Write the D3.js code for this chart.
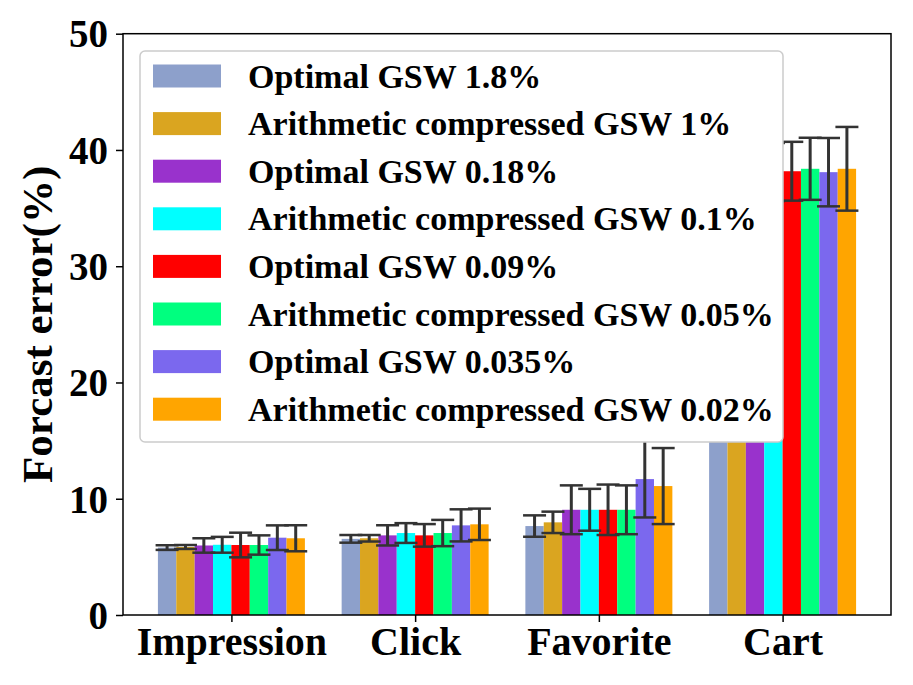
<html>
  <head>
    <script src="https://d3js.org/d3.v7.min.js"></script>
    <style>
      body { margin: 0; background: #fff; }
      text { font-family: "Liberation Serif", "Times New Roman", serif; font-weight: bold; }
    </style>
  </head>
  <body>
    <svg class="chart"></svg>
  </body>
  <script>
  // groups on the x axis
  const categories = ['Impression', 'Click', 'Favorite', 'Cart'];

  const seriesNames = [
    'Optimal GSW 1.8%',
    'Arithmetic compressed GSW 1%',
    'Optimal GSW 0.18%',
    'Arithmetic compressed GSW 0.1%',
    'Optimal GSW 0.09%',
    'Arithmetic compressed GSW 0.05%',
    'Optimal GSW 0.035%',
    'Arithmetic compressed GSW 0.02%'
  ];

  // mean forecast error (%) per series, one value per category
  const meanValues = [
    [5.8, 6.55, 7.65, 37.6],
    [5.85, 6.6, 7.97, 37.9],
    [5.98, 6.85, 9.05, 38.0],
    [6.04, 7.05, 9.05, 38.1],
    [6.02, 6.85, 9.05, 38.17],
    [6.02, 7.05, 9.05, 38.38],
    [6.65, 7.71, 11.69, 38.09],
    [6.6, 7.8, 11.09, 38.38]
  ];

  // error bar half lengths
  const errValues = [
    [0.2, 0.33, 0.92, 2.4],
    [0.17, 0.28, 0.92, 2.5],
    [0.62, 0.87, 2.1, 2.6],
    [0.68, 0.85, 1.8, 2.5],
    [1.06, 0.97, 2.17, 2.53],
    [0.83, 1.13, 2.1, 2.67],
    [1.06, 1.38, 3.3, 2.94],
    [1.12, 1.35, 3.27, 3.6]
  ];

  const yTicks = [0, 10, 20, 30, 40, 50];

  const colors = ['#8DA0CB', '#DAA520', '#9932CC', '#00FFFF', '#FF0000', '#00FF7F', '#7B68EE', '#FFA500'];

  function drawChart(){
    let width = 913;
    let height = 685;
    let margin = {top: 33.7, bottom: 70, left: 123, right: 22};
    let barW = 0.1;

    let svg = d3.select('.chart')
      .attr('width', width)
      .attr('height', height)
      .attr('viewBox', [0, 0, width, height]);

    let x = d3.scaleLinear()
      .domain([-0.59, 3.59])
      .range([margin.left, width - margin.right]);

    let y = d3.scaleLinear()
      .domain([0, 50])
      .range([height - margin.bottom, margin.top]);

    let bars = [];
    seriesNames.forEach((name, s)=>{
      categories.forEach((c, g)=>{
        bars.push({s, g, v: meanValues[s][g], e: errValues[s][g],
                   cx: g + (s - 3.5) * barW});
      });
    });

    svg.append('g').selectAll('rect')
      .data(bars)
      .join('rect')
        .attr('x', d=>x(d.cx - barW/2))
        .attr('width', d=>x(d.cx + barW/2) - x(d.cx - barW/2))
        .attr('y', d=>y(d.v))
        .attr('height', d=>y(0) - y(d.v))
        .attr('fill', d=>colors[d.s]);

    // error bars
    let capHalf = 11.5;
    let eb = svg.append('g')
      .attr('stroke', '#333')
      .attr('fill', 'none');
    eb.selectAll('line.v')
      .data(bars)
      .join('line')
        .attr('class', 'v')
        .attr('x1', d=>x(d.cx)).attr('x2', d=>x(d.cx))
        .attr('y1', d=>y(d.v - d.e)).attr('y2', d=>y(d.v + d.e))
        .attr('stroke-width', 3);
    eb.selectAll('line.lo')
      .data(bars)
      .join('line')
        .attr('class', 'lo')
        .attr('x1', d=>x(d.cx) - capHalf).attr('x2', d=>x(d.cx) + capHalf)
        .attr('y1', d=>y(d.v - d.e)).attr('y2', d=>y(d.v - d.e))
        .attr('stroke-width', 2.5);
    eb.selectAll('line.hi')
      .data(bars)
      .join('line')
        .attr('class', 'hi')
        .attr('x1', d=>x(d.cx) - capHalf).attr('x2', d=>x(d.cx) + capHalf)
        .attr('y1', d=>y(d.v + d.e)).attr('y2', d=>y(d.v + d.e))
        .attr('stroke-width', 2.5);

    // axes
    let yAxis = svg.append('g')
      .attr('transform', `translate(${margin.left},0)`)
      .call(d3.axisLeft(y).tickValues(yTicks).tickSize(7).tickPadding(8).tickSizeOuter(0));
    yAxis.selectAll('text').style('font-size', '39px').attr('dy', '0.34em');

    let xAxis = svg.append('g')
      .attr('transform', `translate(0,${y(0)})`)
      .call(d3.axisBottom(x).tickValues([0, 1, 2, 3]).tickFormat(i=>categories[i])
        .tickSize(7).tickPadding(5).tickSizeOuter(0));
    xAxis.selectAll('text').style('font-size', '40px').attr('fill', '#000');

    svg.selectAll('.domain').remove();
    svg.selectAll('.tick line').attr('stroke', '#000').attr('stroke-width', 1.5);
    svg.selectAll('.tick text').attr('fill', '#000');

    svg.append('rect')
      .attr('x', x.range()[0])
      .attr('y', y(50))
      .attr('width', x.range()[1] - x.range()[0])
      .attr('height', y(0) - y(50))
      .attr('fill', 'none')
      .attr('stroke', '#000')
      .attr('stroke-width', 1.5);

    svg.append('text')
      .attr('transform', `translate(52,${(y(0) + y(50))/2}) rotate(-90)`)
      .attr('text-anchor', 'middle')
      .style('font-size', '43px')
      .text('Forcast error(%)');

    // legend
    let lg = svg.append('g');
    lg.append('rect')
      .attr('x', 140).attr('y', 51)
      .attr('width', 643).attr('height', 391)
      .attr('rx', 5)
      .attr('fill', '#fff')
      .attr('stroke', '#cccccc')
      .attr('stroke-width', 1.5);
    let items = lg.selectAll('g.item')
      .data(seriesNames)
      .join('g')
        .attr('class', 'item')
        .attr('transform', (d, i)=>`translate(0,${76 + i * 47.6})`);
    items.append('rect')
      .attr('x', 153).attr('y', -11.5)
      .attr('width', 68).attr('height', 23)
      .attr('fill', (d, i)=>colors[i]);
    items.append('text')
      .attr('x', 248).attr('y', 11.5)
      .style('font-size', '34px')
      .text(d=>d);
  }

  drawChart();
  </script>
</html>
